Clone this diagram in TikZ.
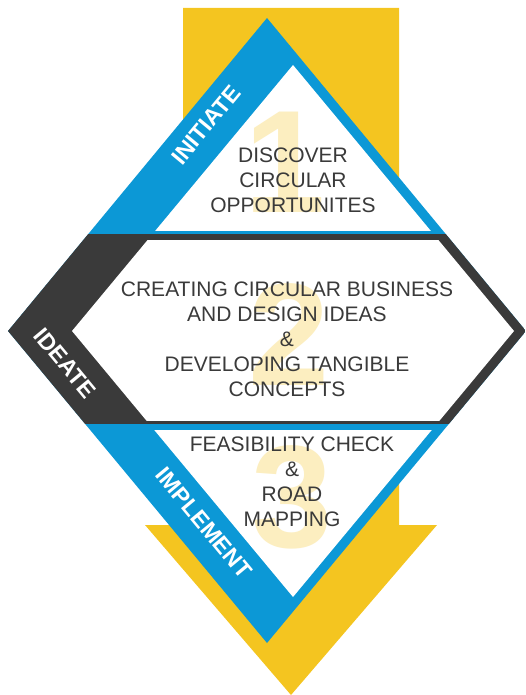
\documentclass[tikz,border=0pt]{standalone}
\usepackage{fontspec}
\setmainfont{Liberation Sans}
\usetikzlibrary{positioning}
\definecolor{arrowyellow}{HTML}{F4C520}
\definecolor{phaseblue}{HTML}{0C98D6}
\definecolor{phasedark}{HTML}{3A3A3A}
\definecolor{numyellow}{HTML}{FCEEC0}
\definecolor{textgray}{HTML}{3A3A3A}

\begin{document}
\begin{tikzpicture}[x=1pt,y=-1pt]
  \tikzstyle{desc} = [align=center, text=textgray, font=\fontsize{21}{25}\selectfont, inner sep=0pt]
  \tikzstyle{phase} = [text=white, font=\fontsize{23}{23}\selectfont\bfseries, inner sep=0pt]
  \tikzstyle{num} = [text=numyellow, font=\fontsize{146}{146}\selectfont\bfseries, inner sep=0pt]

  \useasboundingbox (0,0) rectangle (525,695);

  \fill[arrowyellow] (183,8) -- (399,8) -- (399,525) -- (437,525) -- (291,695) -- (145,525) -- (183,525) -- cycle;

  \coordinate (T) at (267,18);
  \coordinate (R) at (526,331);
  \coordinate (B) at (267,643);
  \coordinate (L) at (8,331);

  \begin{scope}
    \clip (T) -- (R) -- (B) -- (L) -- cycle;
    \fill[phaseblue] (0,0) rectangle (525,695);
    \fill[phasedark] (0,234) rectangle (525,424);
  \end{scope}
  \begin{scope}
    \clip (293,65) -- (514,331) -- (293,597) -- (72,331) -- cycle;
    \fill[white] (0,0) rectangle (525,231);
    \fill[white] (0,240) rectangle (525,421);
    \fill[white] (0,430) rectangle (525,695);
  \end{scope}

  \node[num] (one) at (285,162) {1};
  \node[num] (two) at (289,335) {2};
  \node[num] (three) at (292,497) {3};

  \node[desc] (discover) at (293,180) {DISCOVER\\CIRCULAR\\OPPORTUNITES};
  \node[desc] (creating) at (287,339) {CREATING CIRCULAR BUSINESS\\AND DESIGN IDEAS\\\&\\DEVELOPING TANGIBLE\\CONCEPTS};
  \node[desc] (feasibility) at (292,482) {FEASIBILITY CHECK\\\&\\ROAD\\MAPPING};

  \node[phase, rotate=50.3] (initiate) at (206,125) {INITIATE};
  \node[phase, rotate=-50.3] (ideate) at (65,363) {IDEATE};
  \node[phase, rotate=-50.3] (implement) at (204,523) {IMPLEMENT};
\end{tikzpicture}
\end{document}
